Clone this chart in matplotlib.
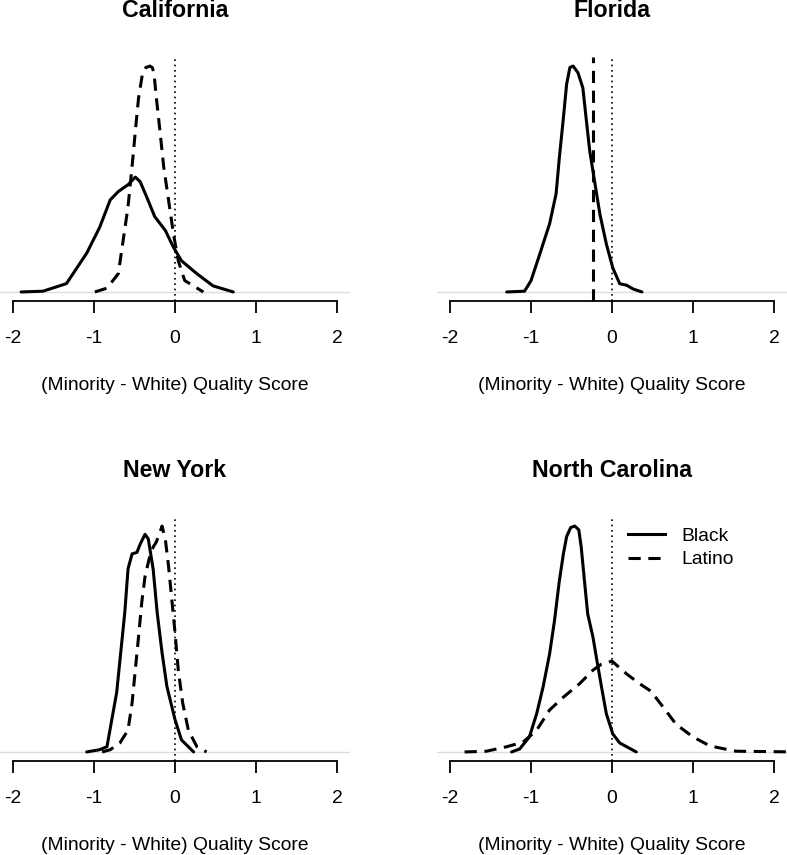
import matplotlib
matplotlib.use("Agg")
import matplotlib.pyplot as plt
from matplotlib.lines import Line2D

plt.rcParams['font.family'] = ['Liberation Sans', 'DejaVu Sans']

# ---------------- data (density curves) ----------------
states = ["California", "Florida", "New York", "North Carolina"]

ca_black_x = [-1.90, -1.63, -1.34, -1.09, -0.93, -0.80, -0.70, -0.58, -0.49, -0.43, -0.35, -0.25, -0.12, -0.02, 0.08, 0.27, 0.47, 0.72]
ca_black_y = [0, 0.01, 0.11, 0.51, 0.85, 1.21, 1.32, 1.41, 1.51, 1.45, 1.25, 0.99, 0.81, 0.59, 0.41, 0.24, 0.08, 0]
ca_latino_x = [-0.99, -0.84, -0.70, -0.64, -0.58, -0.53, -0.49, -0.45, -0.40, -0.36, -0.31, -0.28, -0.26, -0.23, -0.185, -0.14, -0.08, -0.02, 0.04, 0.12, 0.35]
ca_latino_y = [0, 0.05, 0.24, 0.68, 1.12, 1.65, 2.11, 2.55, 2.88, 2.95, 2.97, 2.95, 2.88, 2.55, 2.11, 1.65, 1.21, 0.77, 0.41, 0.15, 0]

fl_black_x = [-1.30, -1.08, -1.00, -0.89, -0.77, -0.69, -0.65, -0.60, -0.56, -0.52, -0.48, -0.42, -0.36, -0.32, -0.275, -0.21, -0.15, -0.07, 0.01, 0.095, 0.18, 0.26, 0.37]
fl_black_y = [0, 0.01, 0.15, 0.51, 0.91, 1.31, 1.79, 2.32, 2.77, 2.99, 3.01, 2.92, 2.72, 2.32, 1.88, 1.44, 1.04, 0.64, 0.32, 0.11, 0.09, 0.04, 0]
fl_latino_value = -0.235   # degenerate density (all mass at one value)

ny_black_x = [-1.09, -0.93, -0.84, -0.78, -0.72, -0.67, -0.62, -0.58, -0.53, -0.47, -0.43, -0.37, -0.33, -0.27, -0.22, -0.16, -0.10, 0.0, 0.08, 0.23]
ny_black_y = [0, 0.03, 0.07, 0.43, 0.79, 1.32, 1.85, 2.43, 2.63, 2.65, 2.76, 2.89, 2.83, 2.43, 1.85, 1.32, 0.87, 0.43, 0.16, 0]
ny_latino_x = [-0.90, -0.80, -0.68, -0.58, -0.53, -0.49, -0.45, -0.41, -0.37, -0.32, -0.27, -0.23, -0.185, -0.16, -0.12, -0.08, -0.04, 0.0, 0.04, 0.095, 0.165, 0.27, 0.39]
ny_latino_y = [0, 0.03, 0.12, 0.29, 0.65, 1.09, 1.53, 1.99, 2.33, 2.56, 2.72, 2.79, 2.92, 3.00, 2.83, 2.47, 2.03, 1.59, 1.09, 0.65, 0.29, 0.07, 0]

nc_black_x = [-1.24, -1.14, -1.02, -0.93, -0.85, -0.77, -0.71, -0.65, -0.60, -0.56, -0.51, -0.46, -0.41, -0.38, -0.34, -0.30, -0.235, -0.185, -0.13, -0.07, 0.01, 0.095, 0.18, 0.30]
nc_black_y = [0, 0.04, 0.20, 0.51, 0.87, 1.31, 1.75, 2.28, 2.64, 2.87, 2.99, 3.01, 2.96, 2.73, 2.28, 1.84, 1.53, 1.21, 0.87, 0.51, 0.24, 0.12, 0.07, 0]
nc_latino_x = [-1.82, -1.55, -1.30, -1.10, -0.93, -0.77, -0.60, -0.40, -0.235, -0.13, 0.0, 0.18, 0.34, 0.48, 0.63, 0.79, 1.00, 1.21, 1.53, 2.30]
nc_latino_y = [0, 0.01, 0.07, 0.13, 0.29, 0.56, 0.73, 0.91, 1.09, 1.17, 1.21, 1.04, 0.91, 0.81, 0.60, 0.37, 0.20, 0.08, 0.01, 0]

x_ticks = [-2, -1, 0, 1, 2]
x_tick_labels = ["-2", "-1", "0", "1", "2"]
x_label = "(Minority - White) Quality Score"
legend_labels = ["Black", "Latino"]

# ---------------- layout ----------------
W, H = 787, 855
fig = plt.figure(figsize=(W / 100, H / 100), dpi=100)

px = 81.0  # pixels per unit
ax_w = 4.32 * px
ax_h = 244.0
lefts = [0.04, 437.04]
tops = [57.0, 517.0]

FS = 13.9
LW = 2.2
DASH = (4, 2.5)

panels = [
    (states[0], (ca_black_x, ca_black_y), (ca_latino_x, ca_latino_y)),
    (states[1], (fl_black_x, fl_black_y), None),
    (states[2], (ny_black_x, ny_black_y), (ny_latino_x, ny_latino_y)),
    (states[3], (nc_black_x, nc_black_y), (nc_latino_x, nc_latino_y)),
]

for i, (name, black, latino) in enumerate(panels):
    r, c = divmod(i, 2)
    left = lefts[c]
    top = tops[r]
    ax = fig.add_axes([left / W, (H - top - ax_h) / H, ax_w / W, ax_h / H])
    ax.set_xlim(-2.16, 2.16)
    ys = list(black[1]) + (list(latino[1]) if latino else [])
    M = max(ys)
    ax.set_ylim(-0.04 * M, 1.04 * M)

    ax.axhline(0, color="#dcdcdc", lw=1.0, zorder=1)
    ax.axvline(0, color="black", lw=1.2, dashes=(1, 2.2), zorder=2)

    ax.plot(black[0], black[1], color="black", lw=LW, solid_capstyle="round",
            solid_joinstyle="round", zorder=3)
    if latino is not None:
        ax.plot(latino[0], latino[1], color="black", lw=LW, dashes=DASH,
                dash_joinstyle="round", zorder=3)
    else:
        ax.axvline(fl_latino_value, color="black", lw=LW, dashes=DASH, zorder=3)

    for s in ["top", "right", "left"]:
        ax.spines[s].set_visible(False)
    ax.spines["bottom"].set_bounds(-2, 2)
    ax.spines["bottom"].set_linewidth(1.3)
    ax.set_yticks([])
    ax.set_xticks(x_ticks)
    ax.set_xticklabels(x_tick_labels, fontsize=FS)
    ax.tick_params(axis="x", length=12 * 0.72, width=1.3, pad=12.0, direction="out")
    ax.patch.set_visible(False)

    ax.annotate(name, xy=(0.5, 1), xycoords="axes fraction",
                xytext=(0, 40 * 0.72), textcoords="offset points",
                ha="center", va="baseline", fontsize=FS * 1.2, fontweight="bold")
    ax.annotate(x_label, xy=(0.5, 0), xycoords="axes fraction",
                xytext=(0, -89 * 0.72), textcoords="offset points",
                ha="center", va="baseline", fontsize=FS)

    if i == 3:
        handles = [Line2D([], [], color="black", lw=LW),
                   Line2D([], [], color="black", lw=LW, dashes=DASH)]
        ax.legend(handles, legend_labels, loc="upper left",
                  bbox_to_anchor=((628 - 437.04) / ax_w, 1 - 10 / ax_h),
                  frameon=False, fontsize=FS, borderpad=0, borderaxespad=0,
                  handlelength=1.92, handletextpad=0.85, labelspacing=0.33)

fig.savefig("out.png", dpi=100)
